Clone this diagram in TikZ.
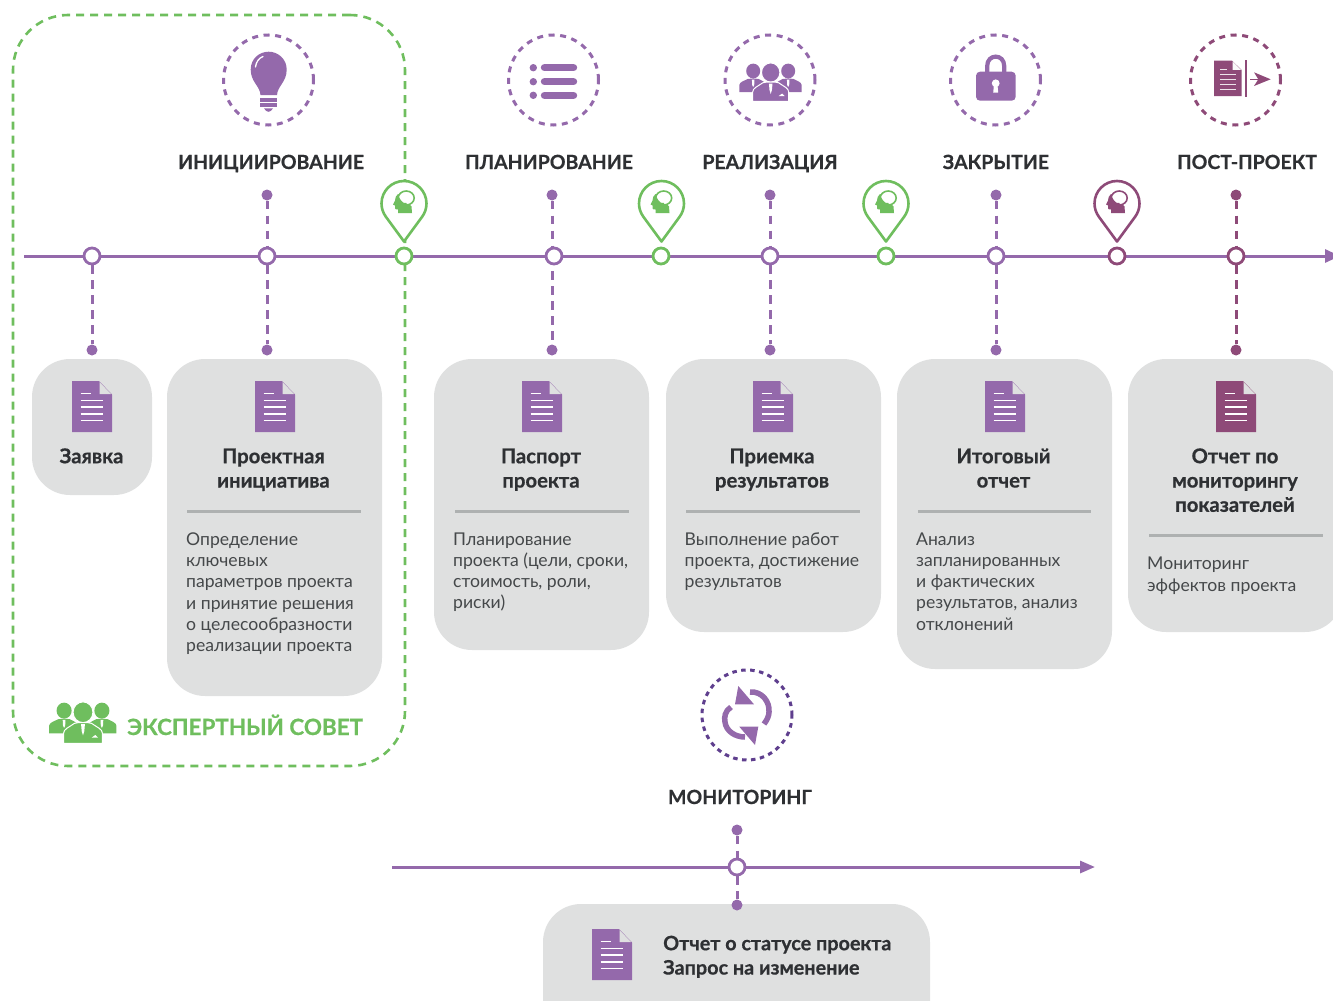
\documentclass[tikz,border=0pt]{standalone}
\usepackage{fontspec}
\setmainfont{Lato}[BoldFeatures={FakeBold=0.6}]
\usetikzlibrary{arrows.meta,backgrounds}
\definecolor{pur}{HTML}{9469AB}
\definecolor{grn}{HTML}{6FBE5E}
\definecolor{mar}{HTML}{8E4A78}
\definecolor{dpur}{HTML}{5F3F8E}
\definecolor{cardc}{HTML}{DFE0E0}
\definecolor{sepc}{HTML}{AEB1B1}
\definecolor{ink}{HTML}{2E3033}
\definecolor{inkb}{HTML}{45484A}
\tikzset{
  x=1pt,y=-1pt,
  card/.style={fill=cardc,rounded corners=38,inner sep=0},
  hub/.style={circle,draw=#1,fill=white,line width=2.8,minimum size=16,inner sep=0},
  dotn/.style={circle,fill=#1,minimum size=11,inner sep=0},
  stem/.style={draw=#1,line width=3,dash pattern=on 8.5 off 6.5},
  ring/.style={draw=#1,line width=3,dash pattern=on 6 off 5.6,circle,minimum size=90,inner sep=0},
  mainline/.style={draw=pur,line width=3},
  phase/.style={font=\fontsize{19.5}{24}\selectfont\bfseries,text=ink,inner sep=0,anchor=base},
  ctitle/.style={font=\fontsize{20.3}{24.3}\selectfont\bfseries,text=ink,align=center,inner sep=0,anchor=north},
  cbody/.style={font=\fontsize{17.6}{21.2}\selectfont,text=inkb,align=left,inner sep=0,anchor=north west},
  sep/.style={draw=sepc,line width=3},
}
% document icon: top-left corner
\newcommand\docicon[3]{%
 \begin{scope}[shift={(#1,#2)}]
  \fill[#3] (0,0) -- (27,0) -- (40,13.5) -- (40,51) -- (0,51) -- cycle;
  \fill[cardc] (27.5,1) -- (39,13) -- (27.5,13) -- cycle;
  \draw[white,line width=1.3] (8.5,12.5) -- (19,12.5) (8.5,19.5) -- (31,19.5) (8.5,26) -- (31,26) (8.5,33) -- (31,33) (8.5,39.7) -- (31,39.7);
 \end{scope}}
% three persons
\newcommand\peopleicon[4]{%
 \begin{scope}[shift={(#1,#2)},scale=#3]
  \fill[#4] (-17.5,-11) ellipse[x radius=7,y radius=7.4];
  \fill[#4] (17.5,-11) ellipse[x radius=7,y radius=7.4];
  \fill[#4] (-31.4,10) -- (-31.4,3) .. controls (-31,0) and (-27,-1) .. (-23,-3) -- (-17.5,-3.6) -- (-12,-3) .. controls (-8,-1) and (-6,0) .. (-4,3) -- (-4,10) -- cycle;
  \fill[#4] (31,10) -- (31,3) .. controls (30.6,0) and (26.6,-1) .. (23,-3) -- (17.5,-3.6) -- (12,-3) .. controls (8,-1) and (6,0) .. (4,3) -- (4,10) -- cycle;
  \fill[white] (-18.8,-2.5) -- (-16.2,-2.5) -- (-16.5,3) -- (-17.5,5) -- (-18.5,3) -- cycle;
  \fill[white] (16.2,-2.5) -- (18.8,-2.5) -- (18.5,3) -- (17.5,5) -- (16.5,3) -- cycle;
  \fill[#4,draw=white,line width=1] (0,-9.5) ellipse[x radius=9.2,y radius=9.6];
  \fill[#4,draw=white,line width=1] (-18,19.3) -- (-18,10) .. controls (-18,6) and (-13,4.5) .. (-8,0.8) -- (-4,0) -- (4,0) -- (8,0.8) .. controls (13,4.5) and (18,6) .. (18,10) -- (18,19.3) -- cycle;
  \fill[white] (-1.8,1.5) -- (1.8,1.5) -- (1.2,8) -- (0,12) -- (-1.2,8) -- cycle;
  \fill[white] (8,14) -- (11.5,11.5) -- (14,14) -- cycle;
 \end{scope}}
% pin with head
\newcommand\pinicon[4]{% x, y (circle centre), colour, node name
 \begin{scope}[shift={(#1,#2)}]
  \path[draw=#3,fill=white,line width=2.6,line join=round]
    (0,38) -- (18.1,13.3) .. controls (20.94,9.44) and (22.5,4.8) .. (22.5,0)
    .. controls (22.5,-12.43) and (12.43,-22.5) .. (0,-22.5)
    .. controls (-12.43,-22.5) and (-22.5,-12.43) .. (-22.5,0)
    .. controls (-22.5,4.8) and (-20.94,9.44) .. (-18.1,13.3) -- cycle;
  \fill[#3] (-6,9.5) -- (8,9.5) -- (7.5,3) -- (0,-5) -- (-6,-9.5) .. controls (-8,-8) and (-9,-5.5) .. (-9,-3) -- (-11,1) -- (-9,2) -- (-9,5) .. controls (-9,6) and (-7,6) .. (-6,6) -- cycle;
  \draw[#3,fill=white,line width=1.6] (2.2,-5.5) ellipse[x radius=8,y radius=7];
  \fill[#3] (-3,-3) -- (-6,-8) -- (-7.5,-2) -- (-2,4) -- (3,4) -- (2.5,-0.5) .. controls (0,0) and (-2,-1) .. (-3,-3) -- cycle;
  \node[inner sep=0,minimum size=0] (#4) at (0,0) {};
 \end{scope}}
\begin{document}
\begin{tikzpicture}
\useasboundingbox (0,0) rectangle (1333,1001);
\clip (0,0) rectangle (1333,1001);
% free line ends
\coordinate (L0) at (24,256);
\coordinate (L1) at (1340,256);
\coordinate (M0) at (392,867);
\coordinate (M1) at (1095,867);
% expert council frame
\node[draw=grn,line width=2.6,dash pattern=on 8 off 6,rounded corners=55,minimum width=392,minimum height=751,inner sep=0] (frame) at (209,390.5) {};
% cards
\node[card,minimum width=120,minimum height=136] (c1) at (92,427) {};
\node[card,minimum width=215,minimum height=337] (c2) at (274.5,527.5) {};
\node[card,minimum width=215,minimum height=291] (c3) at (541.5,504.5) {};
\node[card,minimum width=215,minimum height=273] (c4) at (773.5,495.5) {};
\node[card,minimum width=215,minimum height=310] (c5) at (1004.5,514) {};
\node[card,minimum width=215,minimum height=273] (c6) at (1235.5,495.5) {};
\node[card,minimum width=387,minimum height=140] (c7) at (736.5,974) {};
% lines
\draw[mainline,-{Triangle[length=15,width=13]}] (L0) -- (L1);
\draw[mainline,-{Triangle[length=15,width=12]}] (M0) -- (M1);
% hubs
\node[hub=pur] (h1) at (92,256) {};
\node[hub=pur] (h2) at (267,256) {};
\node[hub=grn] (g1) at (404,256) {};
\node[hub=pur] (h3) at (554,256) {};
\node[hub=grn] (g2) at (661,256) {};
\node[hub=pur] (h4) at (770,256) {};
\node[hub=grn] (g3) at (886,256) {};
\node[hub=pur] (h5) at (996,256) {};
\node[hub=mar] (g4) at (1117,256) {};
\node[hub=mar] (h6) at (1236,256) {};
\node[hub=pur] (h7) at (737,867) {};
% dots
\node[dotn=pur] (b1) at (92,350) {};
\node[dotn=pur] (t2) at (267,195) {};
\node[dotn=pur] (b2) at (267,350) {};
\node[dotn=pur] (t3) at (552,195) {};
\node[dotn=pur] (b3) at (552,350) {};
\node[dotn=pur] (t4) at (770,195) {};
\node[dotn=pur] (b4) at (770,350) {};
\node[dotn=pur] (t5) at (996,195) {};
\node[dotn=pur] (b5) at (996,350) {};
\node[dotn=mar] (t6) at (1236,195) {};
\node[dotn=mar] (b6) at (1236,350) {};
\node[dotn=pur] (t7) at (737,830) {};
\node[dotn=pur] (b7) at (737,905) {};
\begin{scope}[on background layer]
 \draw[stem=pur] (h1) -- (b1);
 \draw[stem=pur] (t2) -- (h2);
 \draw[stem=pur] (h2) -- (b2);
 \draw[stem=pur] (t3) -- (t3 |- h3);
 \draw[stem=pur] (t3 |- h3) -- (b3);
 \draw[stem=pur] (t4) -- (h4);
 \draw[stem=pur] (h4) -- (b4);
 \draw[stem=pur] (t5) -- (h5);
 \draw[stem=pur] (h5) -- (b5);
 \draw[stem=mar] (t6) -- (h6);
 \draw[stem=mar] (h6) -- (b6);
 \draw[stem=pur] (t7) -- (h7);
 \draw[stem=pur] (h7) -- (b7);
\end{scope}
% pins
\pinicon{404}{203.5}{grn}{p1}
\pinicon{661.5}{203.5}{grn}{p2}
\pinicon{886}{203.5}{grn}{p3}
\pinicon{1117}{203.5}{mar}{p4}
% dashed rings
\node[ring=pur] (r1) at (268.5,80) {};
\node[ring=pur] (r2) at (553.5,80) {};
\node[ring=pur] (r3) at (770,80) {};
\node[ring=pur] (r4) at (995.5,80) {};
\node[ring=mar] (r5) at (1235.5,80) {};
\node[draw=dpur,line width=3,dash pattern=on 4.5 off 4.5,circle,minimum size=90,inner sep=0] (r6) at (747,715) {};
% bulb
\fill[pur] (260.5,95) .. controls (260,86) and (250.7,82) .. (250.7,69.5) .. controls (250.7,59) and (259,51.7) .. (268.7,51.7) .. controls (278,51.7) and (286.7,59) .. (286.7,69.5) .. controls (286.7,82) and (277.5,86) .. (277,95) -- cycle;
\draw[white,line width=1.3,line cap=round] (255.5,67) .. controls (256,62) and (259,58) .. (263,56.5);
\fill[pur] (260,97.7) rectangle (277,101.7);
\fill[pur] (260,103) rectangle (277,107);
\fill[pur] (264,108.3) -- (273,108.3) .. controls (272,110.5) and (270,111.8) .. (268.5,111.8) .. controls (267,111.8) and (265,110.5) .. (264,108.3) -- cycle;
% list
\foreach \yy in {67.7,81.7,95.3} {
 \fill[pur] (533.3,\yy) circle[radius=3.7];
 \draw[pur,line width=7.4,line cap=round] (544.5,\yy) -- (573.5,\yy);
}
% people
\peopleicon{770.7}{82}{1}{pur}
\peopleicon{83}{722.5}{1.08}{grn}
% lock
\draw[pur,line width=4.2] (987.2,73) -- (987.2,66) .. controls (987.2,53.5) and (1004.2,53.5) .. (1004.2,66) -- (1004.2,73);
\fill[pur,rounded corners=4] (976,71.7) rectangle (1015.7,100.7);
\fill[white] (995.7,83.3) circle[radius=3.9];
\fill[white] (994,84) -- (997.4,84) -- (998.2,92.7) -- (993.2,92.7) -- cycle;
% post-project icon
\fill[mar] (1214,60.7) -- (1232,60.7) -- (1241.7,70) -- (1241.7,96) -- (1214,96) -- cycle;
\fill[white!80!cardc] (1232.5,61.5) -- (1241,69.8) -- (1232.5,69.8) -- cycle;
\draw[white!85!mar,line width=1] (1220,69) -- (1227,69) (1220,74) -- (1236,74) (1220,79) -- (1236,79) (1220,84) -- (1236,84) (1220,89) -- (1236,89);
\draw[mar,line width=2] (1246,60) -- (1246,97.3);
\draw[mar,line width=1.6] (1250,79.3) -- (1260,79.3);
\fill[mar] (1254,72.3) -- (1270.7,79.3) -- (1254,86) -- (1258.3,79.3) -- cycle;
% refresh
\draw[pur,line width=5.5] (750,692) .. controls (762,691) and (770,702) .. (769,712) .. controls (769,716) and (767,720) .. (764,724);
\fill[pur] (738.3,686) -- (735,704.3) -- (754,704.3) -- cycle;
\draw[pur,line width=5.5] (731,707) .. controls (725,711) and (724,717) .. (725,722) .. controls (726,731) and (735,737) .. (745,737);
\fill[pur] (739.3,726.7) -- (758.3,726.7) -- (755,745) -- cycle;
% phase labels
\node[phase] (l1) at (271,169) {ИНИЦИИРОВАНИЕ};
\node[phase] (l2) at (549,169) {ПЛАНИРОВАНИЕ};
\node[phase] (l3) at (770,169) {РЕАЛИЗАЦИЯ};
\node[phase] (l4) at (996,169) {ЗАКРЫТИЕ};
\node[phase] (l5) at (1247,169) {ПОСТ-ПРОЕКТ};
\node[phase] (l6) at (740,804) {МОНИТОРИНГ};
% docs
\docicon{72}{381}{pur}
\docicon{255}{381}{pur}
\docicon{522}{381}{pur}
\docicon{753}{381}{pur}
\docicon{985}{381}{pur}
\docicon{1216}{381}{mar}
\docicon{592}{929}{pur}
% card titles
\node[ctitle] (a1) at (91.5,446) {\strut Заявка\strut};
\node[ctitle] (a2) at (273.5,446) {\strut Проектная\\инициатива\strut};
\node[ctitle] (a3) at (541,446) {\strut Паспорт\\проекта\strut};
\node[ctitle] (a4) at (772,446) {\strut Приемка\\результатов\strut};
\node[ctitle] (a5) at (1003.5,446) {\strut Итоговый\\отчет\strut};
\node[ctitle] (a6) at (1235,446) {\strut Отчет по\\мониторингу\\показателей\strut};
% separators
\draw[sep] (187,511) -- (361,511);
\draw[sep] (455,511) -- (629,511);
\draw[sep] (686,511) -- (860,511);
\draw[sep] (918,511) -- (1091,511);
\draw[sep] (1149,535) -- (1323,535);
% card bodies
\node[cbody] (d2) at (186,532.5) {Определение\\ключевых\\параметров проекта\\и принятие решения\\о целесообразности\\реализации проекта};
\node[cbody] (d3) at (453,532.5) {Планирование\\проекта (цели, сроки,\\стоимость, роли,\\риски)};
\node[cbody] (d4) at (684.5,532.5) {Выполнение работ\\проекта, достижение\\результатов};
\node[cbody] (d5) at (916,532.5) {Анализ\\запланированных\\и фактических\\результатов, анализ\\отклонений};
\node[cbody] (d6) at (1147,557) {Мониторинг\\эффектов проекта};
\node[ctitle,align=left,anchor=north west,font=\fontsize{19.8}{24.3}\selectfont\bfseries] (d7) at (663,933) {\strut Отчет о статусе проекта\\Запрос на изменение\strut};
\node[inner sep=0,anchor=base west,text=grn,font=\fontsize{22.4}{26}\selectfont\bfseries] (exp) at (127,735) {ЭКСПЕРТНЫЙ СОВЕТ};
\end{tikzpicture}
\end{document}
